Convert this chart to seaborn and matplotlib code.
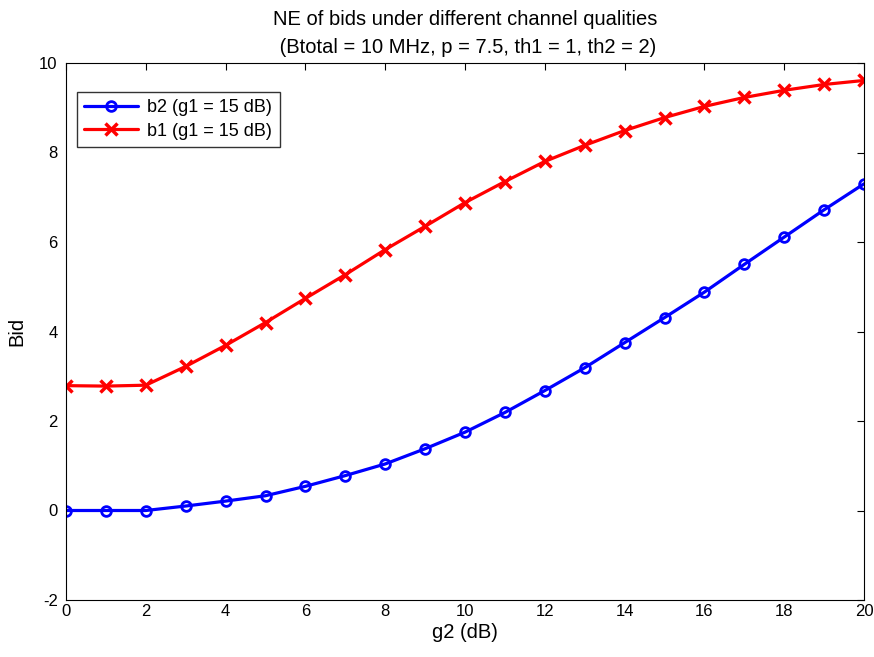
import matplotlib
matplotlib.use("Agg")
import matplotlib.pyplot as plt
import seaborn as sns
import pandas as pd

g2 = list(range(0, 21))
b2 = [0.0, 0.0, 0.0, 0.10, 0.21, 0.33, 0.54, 0.78, 1.04, 1.38, 1.75,
      2.19, 2.68, 3.19, 3.75, 4.31, 4.88, 5.50, 6.11, 6.72, 7.30]
b1 = [2.79, 2.78, 2.80, 3.22, 3.69, 4.20, 4.74, 5.27, 5.83, 6.35, 6.88,
      7.35, 7.80, 8.16, 8.49, 8.78, 9.03, 9.23, 9.39, 9.52, 9.61]
labels = ["b2 (g1 = 15 dB)", "b1 (g1 = 15 dB)"]
title = "NE of bids under different channel qualities\n (Btotal = 10 MHz, p = 7.5, th1 = 1, th2 = 2)"

sns.set_theme(style="white")
plt.rcParams['font.family'] = ['Liberation Sans', 'DejaVu Sans']
plt.rcParams['axes.unicode_minus'] = False
plt.rcParams['text.color'] = 'black'
plt.rcParams['axes.labelcolor'] = 'black'

fig = plt.figure(figsize=(8.74, 6.57), dpi=100)
ax = fig.add_axes([66/874, 1-600/657, (864-66)/874, (600-63)/657])

df2 = pd.DataFrame({"g2": g2, "Bid": b2})
df1 = pd.DataFrame({"g2": g2, "Bid": b1})
sns.lineplot(data=df2, x="g2", y="Bid", ax=ax, color="#0000ff", lw=2.3,
             marker="o", markersize=7, markerfacecolor="none",
             markeredgecolor="#0000ff", markeredgewidth=2, label=labels[0])
sns.lineplot(data=df1, x="g2", y="Bid", ax=ax, color="#ff0000", lw=2.3,
             marker="x", markersize=9, markeredgewidth=2.5,
             markeredgecolor="#ff0000", label=labels[1])

ax.set_xlim(0, 20)
ax.set_ylim(-2, 10)
ax.set_xticks(range(0, 21, 2))
ax.set_yticks(range(-2, 11, 2))
ax.tick_params(direction="in", top=True, right=True, length=5, width=0.8,
               labelsize=12, colors="black")
ax.tick_params(axis="x", pad=3)
ax.tick_params(axis="y", pad=6)
for s in ax.spines.values():
    s.set_color("black")
    s.set_linewidth(0.8)
ax.set_xlabel("g2 (dB)", fontsize=14.5, labelpad=3, color="black")
ax.set_ylabel("Bid", fontsize=14.5, labelpad=9, color="black")
ax.set_title(title, fontsize=14.5, pad=7, linespacing=1.6, color="black")

leg = ax.legend(loc="upper left", bbox_to_anchor=(0.0138, 0.946), fontsize=13,
                frameon=True, fancybox=False, edgecolor="black",
                borderpad=0.4, handlelength=3.0, labelspacing=0.35,
                handletextpad=0.5, borderaxespad=0)
leg.get_frame().set_linewidth(1.0)
for t in leg.get_texts():
    t.set_color("black")

fig.savefig("out.png", dpi=100)
